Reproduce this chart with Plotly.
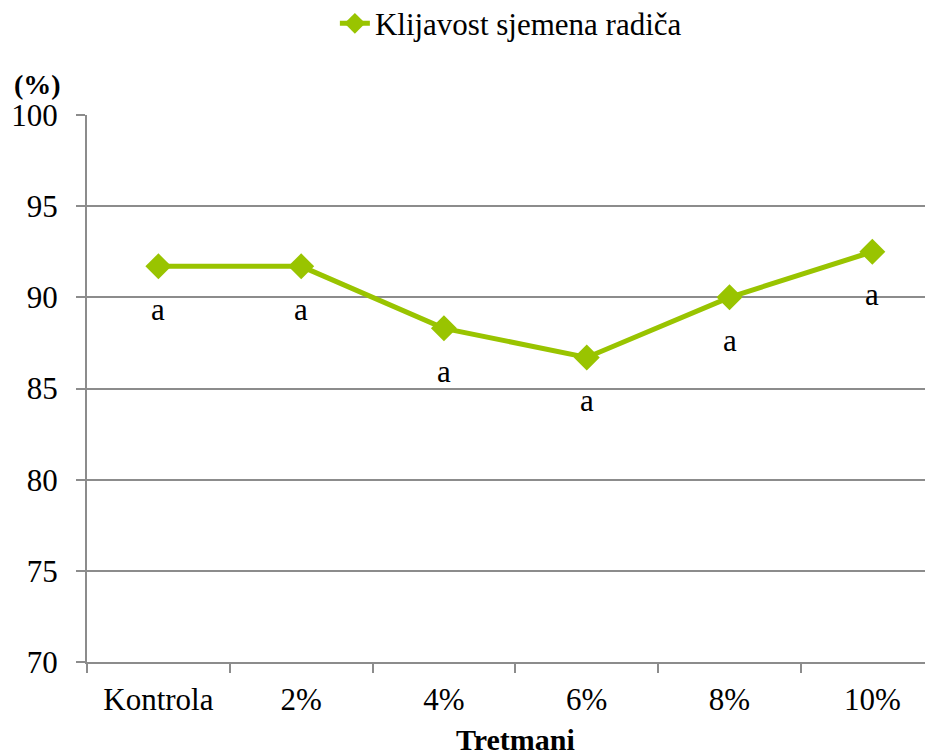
import plotly.graph_objects as go

categories = ["Kontrola", "2%", "4%", "6%", "8%", "10%"]
values = [91.7, 91.7, 88.3, 86.7, 90.0, 92.5]
letters = ["a", "a", "a", "a", "a", "a"]
series_name = "Klijavost sjemena radiča"
y_ticks = [70, 75, 80, 85, 90, 95, 100]

FONT = "Liberation Serif"
GREEN = "#99c400"
GRAY = "#8c8c8c"

fig = go.Figure()
fig.add_trace(go.Scatter(
    x=categories, y=values, name=series_name,
    mode="lines+markers",
    line=dict(color=GREEN, width=5),
    marker=dict(symbol="diamond", size=20, color=GREEN),
))

label_annotations = [
    dict(x=c, y=v, xref="x", yref="y", text=t, showarrow=False,
         yshift=-43, font=dict(family=FONT, size=31, color="black"))
    for c, v, t in zip(categories, values, letters)
]

fig.update_layout(
    width=933, height=756,
    margin=dict(l=79, r=8, t=107, b=102, autoexpand=False),
    plot_bgcolor="white", paper_bgcolor="white",
    font=dict(family=FONT, size=31, color="black"),
    showlegend=True,
    legend=dict(orientation="h", x=0.293, xanchor="left", y=1.167, yanchor="middle",
                font=dict(family=FONT, size=31, color="black"), bgcolor="rgba(0,0,0,0)"),
    xaxis=dict(
        type="category", range=[-0.5, 5.425], tickson="boundaries",
        ticks="outside", ticklen=9, tickcolor=GRAY, tickwidth=2,
        showline=True, linecolor=GRAY, linewidth=2, automargin=False,
        showgrid=False, tickfont=dict(family=FONT, size=31), ticklabelstandoff=9,
    ),
    yaxis=dict(
        range=[70, 100], tickvals=y_ticks, ticktext=[str(v) for v in y_ticks],
        ticks="outside", ticklen=9, tickcolor=GRAY, tickwidth=2,
        showline=True, linecolor=GRAY, linewidth=2, automargin=False,
        showgrid=True, gridcolor=GRAY, gridwidth=1.5, zeroline=False,
        tickfont=dict(family=FONT, size=31), ticklabelstandoff=12,
    ),
    annotations=label_annotations + [
        dict(text="<b>(%)</b>", xref="paper", yref="paper", x=-0.0887, y=1.055,
             xanchor="left", yanchor="middle", showarrow=False,
             font=dict(family=FONT, size=28, color="black")),
        dict(text="<b>Tretmani</b>", xref="x", yref="paper", x=2.5, y=-0.142,
             xanchor="center", yanchor="middle", showarrow=False,
             font=dict(family=FONT, size=30, color="black")),
    ],
)

fig.write_html("out.html")
